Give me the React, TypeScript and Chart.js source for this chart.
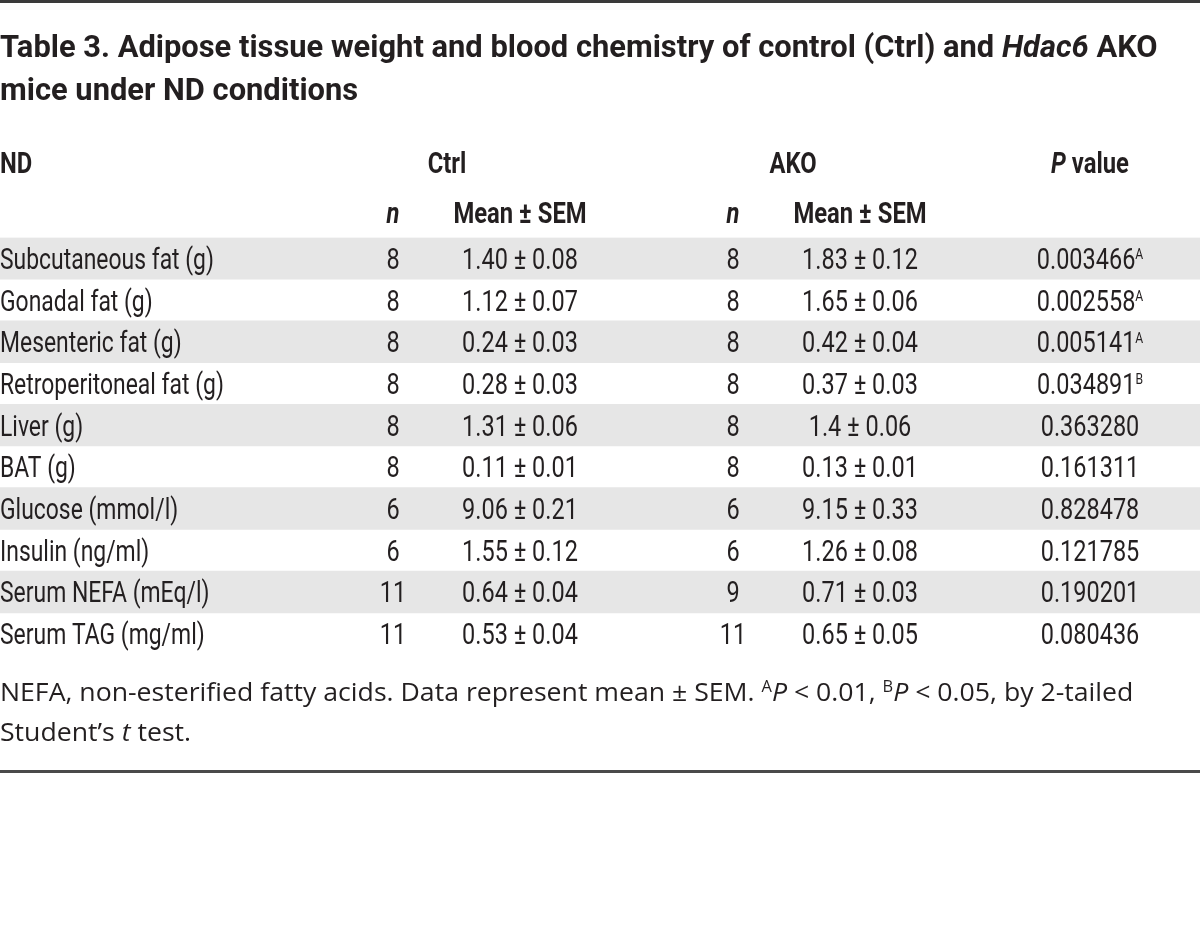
import React, { useEffect, useRef } from "react";
import { Chart, registerables } from "chart.js";

Chart.register(...registerables);

const rowLabels = [
  "Subcutaneous fat (g)",
  "Gonadal fat (g)",
  "Mesenteric fat (g)",
  "Retroperitoneal fat (g)",
  "Liver (g)",
  "BAT (g)",
  "Glucose (mmol/l)",
  "Insulin (ng/ml)",
  "Serum NEFA (mEq/l)",
  "Serum TAG (mg/ml)",
];
const ctrlN = [8, 8, 8, 8, 8, 8, 6, 6, 11, 11];
const ctrlMean = ["1.40", "1.12", "0.24", "0.28", "1.31", "0.11", "9.06", "1.55", "0.64", "0.53"];
const ctrlSem = ["0.08", "0.07", "0.03", "0.03", "0.06", "0.01", "0.21", "0.12", "0.04", "0.04"];
const akoN = [8, 8, 8, 8, 8, 8, 6, 6, 9, 11];
const akoMean = ["1.83", "1.65", "0.42", "0.37", "1.4", "0.13", "9.15", "1.26", "0.71", "0.65"];
const akoSem = ["0.12", "0.06", "0.04", "0.03", "0.06", "0.01", "0.33", "0.08", "0.03", "0.05"];
const pValues = ["0.003466", "0.002558", "0.005141", "0.034891", "0.363280", "0.161311", "0.828478", "0.121785", "0.190201", "0.080436"];
const pMarks = ["A", "A", "A", "B", "", "", "", "", "", ""];

const W = 1200;
const H = 934;
const TABLE_TOP = 237.5;
const TABLE_BOTTOM = 654.5;
const TEXT = "#231f20";
const SHADE = "#e6e6e6";

// column centres in x-scale units (0..1200)
const COL_CTRL_N = 393;
const COL_CTRL_MEAN = 520;
const COL_AKO_N = 733;
const COL_AKO_MEAN = 860;
const COL_P = 1090;

const FAM = "Roboto, 'Noto Sans', sans-serif";
const CAP_FAM = "'Open Sans', 'Noto Sans', sans-serif";
const COND = 0.79;
const COND_NUM = 0.81;
const COND_B = 0.82;

type Run = { t: string; f: string; sup?: number };

function drawRuns(
  ctx: CanvasRenderingContext2D,
  runs: Run[],
  x: number,
  y: number,
  align: "left" | "center" | "right",
  sx: number
) {
  ctx.save();
  ctx.textBaseline = "alphabetic";
  ctx.textAlign = "left";
  let total = 0;
  const widths: number[] = [];
  for (const r of runs) {
    ctx.font = r.f;
    const w = ctx.measureText(r.t).width;
    widths.push(w);
    total += w;
  }
  total *= sx;
  let start = x;
  if (align === "center") start = x - total / 2;
  else if (align === "right") start = x - total;
  ctx.translate(start, y);
  ctx.scale(sx, 1);
  let cx = 0;
  runs.forEach((r, i) => {
    ctx.font = r.f;
    ctx.fillStyle = TEXT;
    ctx.fillText(r.t, cx, r.sup ? -r.sup : 0);
    cx += widths[i];
  });
  ctx.restore();
}

const tablePlugin = {
  id: "tableText",
  afterDatasetsDraw(chart: any) {
    const ctx: CanvasRenderingContext2D = chart.ctx;
    const xs = chart.scales.x;
    const ys = chart.scales.y;
    const px = (v: number) => xs.getPixelForValue(v);

    // rules
    ctx.save();
    ctx.fillStyle = "#3a3a3a";
    ctx.fillRect(0, 0, W, 3);
    ctx.fillStyle = "#4a4a4a";
    ctx.fillRect(0, 770, W, 3);
    ctx.restore();

    const regular = `400 29px ${FAM}`;
    const bold = `700 29px ${FAM}`;
    const boldIt = `italic 700 29px ${FAM}`;
    const sup = `400 15px ${FAM}`;

    // title
    const tB = `700 32px ${FAM}`;
    const tBI = `italic 700 32px ${FAM}`;
    drawRuns(
      ctx,
      [
        { t: "Table 3. Adipose tissue weight and blood chemistry of control (Ctrl) and ", f: tB },
        { t: "Hdac6", f: tBI },
        { t: " AKO", f: tB },
      ],
      0,
      57,
      "left",
      0.965
    );
    drawRuns(ctx, [{ t: "mice under ND conditions", f: tB }], 0, 100, "left", 0.965);

    // header row 1
    const h1 = 173;
    drawRuns(ctx, [{ t: "ND", f: bold }], 0, h1, "left", COND_B);
    drawRuns(ctx, [{ t: "Ctrl", f: bold }], px(447), h1, "center", COND_B);
    drawRuns(ctx, [{ t: "AKO", f: bold }], px(793), h1, "center", COND_B);
    drawRuns(ctx, [{ t: "P", f: boldIt }, { t: " value", f: bold }], px(COL_P), h1, "center", COND_B);

    // header row 2
    const h2 = 223;
    drawRuns(ctx, [{ t: "n", f: boldIt }], px(COL_CTRL_N), h2, "center", COND_B);
    drawRuns(ctx, [{ t: "Mean ± SEM", f: bold }], px(COL_CTRL_MEAN), h2, "center", COND_B);
    drawRuns(ctx, [{ t: "n", f: boldIt }], px(COL_AKO_N), h2, "center", COND_B);
    drawRuns(ctx, [{ t: "Mean ± SEM", f: bold }], px(COL_AKO_MEAN), h2, "center", COND_B);

    // body
    rowLabels.forEach((lab, i) => {
      const y = ys.getPixelForValue(i) + 10.5;
      drawRuns(ctx, [{ t: lab, f: regular }], px(0), y, "left", COND);
      drawRuns(ctx, [{ t: String(ctrlN[i]), f: regular }], px(COL_CTRL_N), y, "center", COND_NUM);
      drawRuns(ctx, [{ t: `${ctrlMean[i]} ± ${ctrlSem[i]}`, f: regular }], px(COL_CTRL_MEAN), y, "center", COND_NUM);
      drawRuns(ctx, [{ t: String(akoN[i]), f: regular }], px(COL_AKO_N), y, "center", COND_NUM);
      drawRuns(ctx, [{ t: `${akoMean[i]} ± ${akoSem[i]}`, f: regular }], px(COL_AKO_MEAN), y, "center", COND_NUM);
      const runs: Run[] = [{ t: pValues[i], f: regular }];
      if (pMarks[i]) runs.push({ t: pMarks[i], f: sup, sup: 9.5 });
      drawRuns(ctx, runs, px(COL_P), y, "center", COND_NUM);
    });

    // caption
    const cR = `400 26px ${CAP_FAM}`;
    const cI = `italic 400 26px ${CAP_FAM}`;
    const cS = `400 16px ${CAP_FAM}`;
    drawRuns(
      ctx,
      [
        { t: "NEFA, non-esterified fatty acids. Data represent mean ± SEM. ", f: cR },
        { t: "A", f: cS, sup: 9 },
        { t: "P", f: cI },
        { t: " < 0.01, ", f: cR },
        { t: "B", f: cS, sup: 9 },
        { t: "P", f: cI },
        { t: " < 0.05, by 2-tailed", f: cR },
      ],
      0,
      701,
      "left",
      1.025
    );
    drawRuns(
      ctx,
      [
        { t: "Student’s ", f: cR },
        { t: "t", f: cI },
        { t: " test.", f: cR },
      ],
      0,
      741,
      "left",
      1.025
    );
  },
};

export default function App() {
  const ref = useRef<HTMLCanvasElement | null>(null);
  useEffect(() => {
    document.body.style.margin = "0";
    document.body.style.background = "#ffffff";
    const canvas = ref.current;
    if (!canvas) return;
    const shaded = rowLabels.map((_, i) => (i % 2 === 0 ? [0, W] : null));
    const chart = new Chart(canvas, {
      type: "bar",
      data: {
        labels: rowLabels,
        datasets: [
          {
            data: shaded as any,
            backgroundColor: SHADE,
            borderWidth: 0,
            categoryPercentage: 1,
            barPercentage: 1,
          },
        ],
      },
      options: {
        indexAxis: "y",
        animation: false,
        responsive: false,
        maintainAspectRatio: false,
        events: [],
        layout: { padding: { top: TABLE_TOP, bottom: H - TABLE_BOTTOM, left: 0, right: 0 } },
        plugins: { legend: { display: false }, tooltip: { enabled: false }, title: { display: false } },
        scales: {
          x: { type: "linear", min: 0, max: W, display: false },
          y: { type: "category", display: false, offset: true, grid: { display: false } },
        },
      },
      plugins: [tablePlugin],
    });
    return () => chart.destroy();
  }, []);
  return (
    <div style={{ width: W, height: H, background: "#fff" }}>
      <canvas ref={ref} width={W} height={H} style={{ display: "block", width: W, height: H }} />
    </div>
  );
}
